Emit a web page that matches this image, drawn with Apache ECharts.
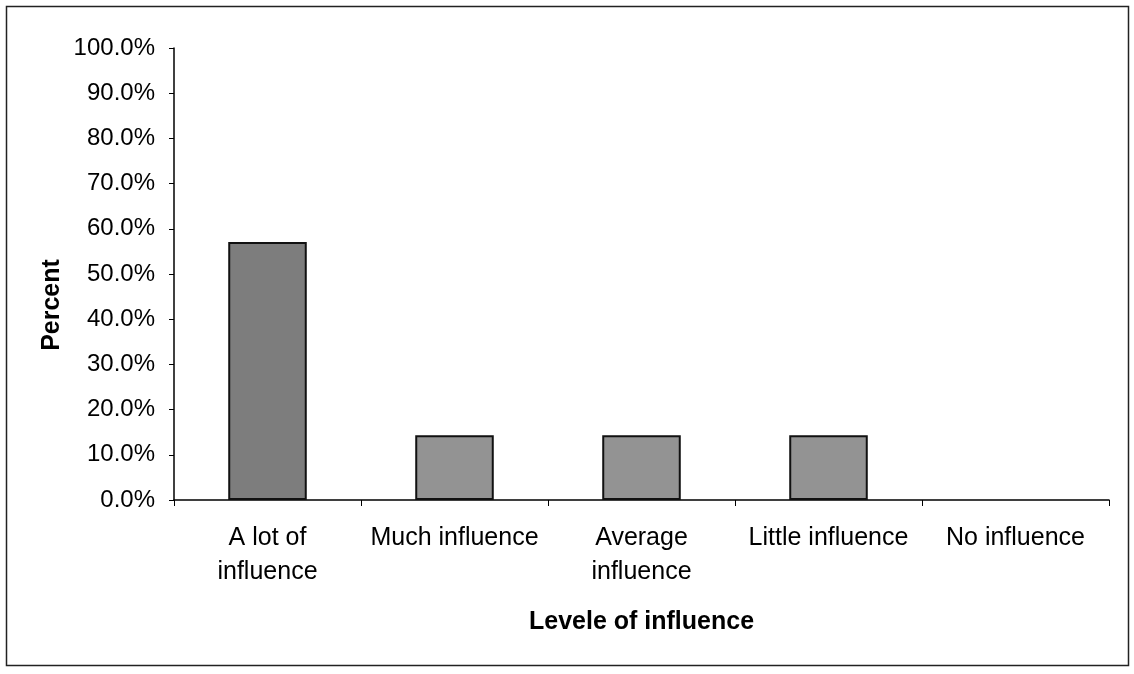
<!DOCTYPE html>
<html>
<head>
<meta charset="utf-8">
<script src="https://cdn.jsdelivr.net/npm/echarts@6/dist/echarts.min.js"></script>
<style>
  html, body { margin: 0; padding: 0; background: #fff; }
  #container { width: 1134px; height: 674px; }
</style>
</head>
<body>
<div id="container"></div>
<script>
// levels of influence and their share (percent)
const categories = ["A lot of\ninfluence", "Much influence", "Average\ninfluence", "Little influence", "No influence"];
const percents = [57.1, 14.3, 14.3, 14.3, 0];
const yTicks = { min: 0, max: 100, interval: 10 };

const chart = echarts.init(document.getElementById("container"));

const font = "Liberation Sans, Arial, sans-serif";

// zero bars are drawn with no outline, like the original
const barData = percents.map(function (v, i) {
  return {
    value: v,
    itemStyle: {
      color: i === 0 ? "#7d7d7d" : "#939393",
      borderWidth: v === 0 ? 0 : 2,
    },
  };
});

let option = {
  animation: false,
  backgroundColor: "#fff",
  grid: {
    left: 174,
    right: 25,
    top: 48,
    bottom: 174,
  },
  graphic: [
    {
      type: "rect",
      shape: { x: 6.5, y: 6.5, width: 1122, height: 659 },
      style: { fill: "none", stroke: "#222", lineWidth: 1.5 },
    },
    {
      type: "text",
      x: 52,
      y: 305,
      rotation: Math.PI / 2,
      style: {
        text: "Percent",
        font: "bold 25px " + font,
        fill: "#000",
        align: "center",
        verticalAlign: "middle",
      },
    },
  ],
  xAxis: {
    type: "category",
    data: categories,
    name: "Levele of influence",
    nameLocation: "middle",
    nameGap: 110,
    nameTextStyle: {
      fontFamily: font,
      fontWeight: "bold",
      fontSize: 25,
      color: "#000",
    },
    axisLine: { lineStyle: { color: "#000", width: 1.5 } },
    axisTick: { show: true, length: 6, lineStyle: { color: "#000" } },
    axisLabel: {
      interval: 0,
      margin: 21,
      fontFamily: font,
      fontSize: 25,
      lineHeight: 34,
      color: "#000",
    },
  },
  yAxis: {
    type: "value",
    min: yTicks.min,
    max: yTicks.max,
    interval: yTicks.interval,
    splitLine: { show: false },
    axisLine: { show: true, lineStyle: { color: "#000", width: 1.5 } },
    axisTick: { show: true, length: 5, lineStyle: { color: "#000" } },
    axisLabel: {
      margin: 19,
      fontFamily: font,
      fontSize: 24,
      color: "#000",
      formatter: function (v) {
        return v.toFixed(1) + "%";
      },
    },
  },
  series: [
    {
      type: "bar",
      data: barData,
      barWidth: "42%",
      itemStyle: {
        borderColor: "#111",
      },
    },
  ],
};

chart.setOption(option);
</script>
</body>
</html>
